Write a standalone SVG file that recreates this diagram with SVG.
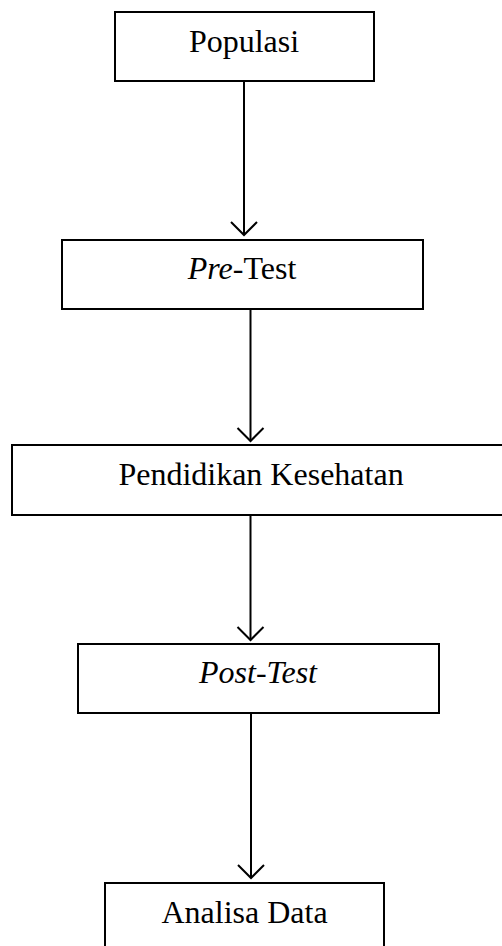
<svg xmlns="http://www.w3.org/2000/svg" width="502" height="946" viewBox="0 0 502 946">
<style>
.box{fill:#fff;stroke:#000;stroke-width:2}
.lbl{font-family:"Liberation Serif","Times New Roman",serif;font-size:32px;fill:#000;text-anchor:middle}
.it{font-style:italic}
.conn line,.conn polyline{stroke:#000;stroke-width:2;fill:none}
</style>
<rect width="502" height="946" fill="#fff"/>
<g id="node-populasi"><rect class="box" x="115" y="12" width="259" height="69"/><text class="lbl" x="244" y="52">Populasi</text></g>
<g id="node-pretest"><rect class="box" x="62" y="240" width="361" height="69"/><text class="lbl" x="242" y="279"><tspan class="it">Pre</tspan>-Test</text></g>
<g id="node-pendidikan"><rect class="box" x="12" y="445" width="500" height="70"/><text class="lbl" x="261" y="485">Pendidikan Kesehatan</text></g>
<g id="node-posttest"><rect class="box" x="78" y="644" width="361" height="69"/><text class="lbl it" x="258" y="683">Post-Test</text></g>
<g id="node-analisa"><rect class="box" x="105" y="883" width="279" height="80"/><text class="lbl" x="244.5" y="923">Analisa Data</text></g>
<g id="connectors" class="conn">
<line x1="244" y1="81" x2="244" y2="235"/><polyline points="231,222 244,235 257,222"/>
<line x1="250.5" y1="309" x2="250.5" y2="441"/><polyline points="237.5,428 250.5,441 263.5,428"/>
<line x1="250.5" y1="515" x2="250.5" y2="640"/><polyline points="237.5,627 250.5,640 263.5,627"/>
<line x1="251" y1="713" x2="251" y2="878"/><polyline points="238,865 251,878 264,865"/>
</g>
</svg>
